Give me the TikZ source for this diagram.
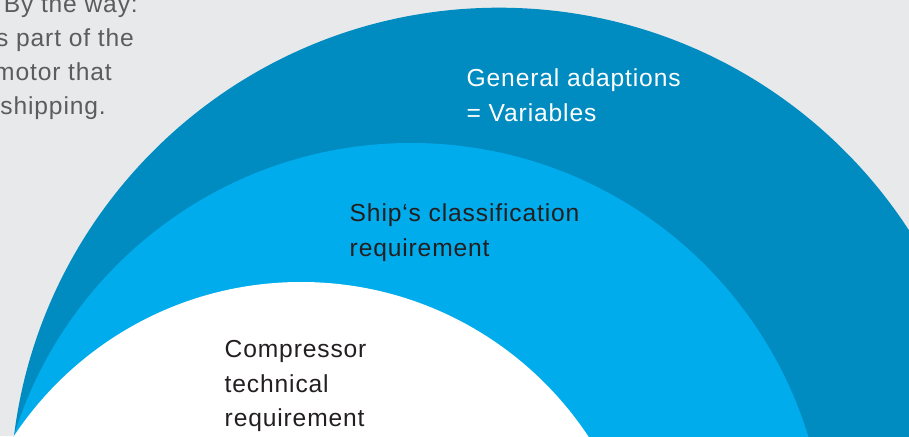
\documentclass[tikz,border=0pt]{standalone}
\usepackage{fontspec}
\setmainfont{Liberation Sans}[LetterSpace=3.5]
\definecolor{bgGray}{HTML}{E8E9EB}
\definecolor{outerBlue}{HTML}{008BC1}
\definecolor{middleBlue}{HTML}{00ACEB}
\definecolor{noteGray}{HTML}{5B5C5E}
\definecolor{darkText}{HTML}{231F20}
\newcommand{\stacklines}[1]{\begin{tabular}[t]{@{}l@{}}#1\end{tabular}}

\begin{document}
\begin{tikzpicture}[x=1pt,y=1pt,
    labeltext/.style={anchor=base west,inner sep=0pt,font=\fontsize{24.6}{34.5}\selectfont}]
    \useasboundingbox (0,0) rectangle (909,436);
    \clip (0,0) rectangle (909,436);
    \fill[bgGray] (0,0) rectangle (909,436);
    \foreach \n/\x/\y/\t in {note1/138/423.5/By the way:,note2/134/389.5/s part of the,note3/112/355/motor that,note4/106/321/shipping.}
      \node[labeltext,anchor=base east,text=noteGray] (\n) at (\x,\y) {\t};
    \fill[outerBlue] (499,-60.4) circle[radius=488.7];
    \fill[middleBlue] (411,-122.5) circle[radius=415.5];
    \fill[white] (301,-190.4) circle[radius=344.4];
    \node[labeltext,text=white] (general) at (466.5,349) {\stacklines{General adaptions\\= Variables}};
    \node[labeltext,text=darkText] (ship) at (349.5,214) {\stacklines{Ship‘s classification\\requirement}};
    \node[labeltext,text=darkText] (compressor) at (224.5,78) {\stacklines{Compressor\\technical\\requirement}};
  \end{tikzpicture}
\end{document}
